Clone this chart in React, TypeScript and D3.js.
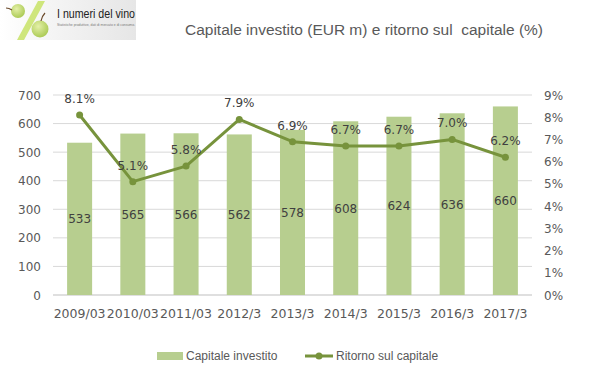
import React from "react";
import * as d3 from "d3";

const categories = ["2009/03", "2010/03", "2011/03", "2012/3", "2013/3", "2014/3", "2015/3", "2016/3", "2017/3"];
const capitale = [533, 565, 566, 562, 578, 608, 624, 636, 660];
const ritorno = [8.1, 5.1, 5.8, 7.9, 6.9, 6.7, 6.7, 7.0, 6.2];
const leftTicks = [0, 100, 200, 300, 400, 500, 600, 700];
const rightTicks = [0, 1, 2, 3, 4, 5, 6, 7, 8, 9];

const W = 599, H = 378;
const m = { left: 53, right: 532, top: 95, bottom: 295 };
const BAR = "#B7CE8F";
const LINE = "#77933C";
const TXT = "#595959";
const FONT = "'DejaVu Sans', Verdana, sans-serif";

export default function App() {
  const x = d3.scaleBand<string>().domain(categories).range([m.left, m.right]).paddingInner(0.53).paddingOuter(0.265);
  const yL = d3.scaleLinear().domain([0, 700]).range([m.bottom, m.top]);
  const yR = d3.scaleLinear().domain([0, 9]).range([m.bottom, m.top]);
  const cx = (c: string) => (x(c) as number) + x.bandwidth() / 2;
  const line = d3.line<number>().x((_, i) => cx(categories[i])).y((d) => yR(d));

  return (
    <svg width={W} height={H} style={{ position: "absolute", left: 0, top: 0, background: "#fff" }}>
      <defs>
        <linearGradient id="lg" x1="0" x2="1" y1="0" y2="0">
          <stop offset="0" stopColor="#ffffff" />
          <stop offset="0.4" stopColor="#f4f4f4" />
          <stop offset="1" stopColor="#e6e6e6" />
        </linearGradient>
        <radialGradient id="gr" cx="0.4" cy="0.35" r="0.7">
          <stop offset="0" stopColor="#e4f0a8" />
          <stop offset="1" stopColor="#a8c850" />
        </radialGradient>
      </defs>
      {/* logo */}
      <rect x={0} y={0} width={136} height={40} fill="url(#lg)" />
      <polygon points="17,40 24,40 45,1 38,1" fill="#cfe67c" />
      <circle cx={18} cy={11} r={7} fill="url(#gr)" />
      <circle cx={40} cy={29} r={8.5} fill="url(#gr)" />
      <path d="M6,8 Q9,8 12,10" stroke="#6b4a2b" strokeWidth={1.2} fill="none" />
      <path d="M45,13 Q42,16 41,21" stroke="#6b4a2b" strokeWidth={1.2} fill="none" />
      <text x={57} y={18} fontFamily="'Liberation Sans', sans-serif" fontSize={12.5} fill="#222" textLength={78} lengthAdjust="spacingAndGlyphs">I numeri del vino</text>
      <text x={57} y={26} fontFamily="'Liberation Sans', sans-serif" fontSize={3.2} fill="#777" textLength={78} lengthAdjust="spacingAndGlyphs">Statistiche produttive, dati di mercato e di consumo.</text>

      {/* title */}
      <text x={364} y={35} textAnchor="middle" fontFamily="'Liberation Sans', sans-serif" fontSize={15.5} fill={TXT} style={{ whiteSpace: "pre" }} textLength={358} lengthAdjust="spacingAndGlyphs">
        Capitale investito (EUR m) e ritorno sul  capitale (%)
      </text>

      {/* grid */}
      {leftTicks.map((t) => (
        <line key={t} x1={m.left} x2={m.right} y1={yL(t)} y2={yL(t)} stroke={t === 0 ? "#bfbfbf" : "#d9d9d9"} strokeWidth={1} />
      ))}
      {leftTicks.map((t) => (
        <text key={"l" + t} x={41} y={yL(t) + 4.5} textAnchor="end" fontFamily={FONT} fontSize={12} fill={TXT}>{t}</text>
      ))}
      {rightTicks.map((t) => (
        <text key={"r" + t} x={544} y={yR(t) + 4.5} textAnchor="start" fontFamily={FONT} fontSize={12} fill={TXT}>{t}%</text>
      ))}

      {/* bars */}
      {capitale.map((v, i) => (
        <rect key={i} x={x(categories[i])} y={yL(v)} width={x.bandwidth()} height={yL(0) - yL(v)} fill={BAR} />
      ))}
      {capitale.map((v, i) => (
        <text key={"bl" + i} x={cx(categories[i])} y={(yL(v) + yL(0)) / 2 + 4.5} textAnchor="middle" fontFamily={FONT} fontSize={12} fill="#404040">{v}</text>
      ))}

      {/* line */}
      <path d={line(ritorno) || ""} fill="none" stroke={LINE} strokeWidth={3} strokeLinejoin="round" />
      {ritorno.map((v, i) => (
        <circle key={"p" + i} cx={cx(categories[i])} cy={yR(v)} r={3.5} fill={LINE} />
      ))}
      {ritorno.map((v, i) => (
        <text key={"pl" + i} x={cx(categories[i])} y={yR(v) - 12} textAnchor="middle" fontFamily={FONT} fontSize={12} fill="#404040">{v.toFixed(1)}%</text>
      ))}

      {/* x labels */}
      {categories.map((c) => (
        <text key={"x" + c} x={cx(c)} y={318} textAnchor="middle" fontFamily={FONT} fontSize={12.5} fill={TXT}>{c}</text>
      ))}

      {/* legend */}
      <rect x={157} y={352} width={26} height={8} fill={BAR} />
      <text x={186} y={360} fontFamily="'Liberation Sans', Arial, sans-serif" fontSize={12} fill={TXT}>Capitale investito</text>
      <line x1={305} x2={333} y1={356} y2={356} stroke={LINE} strokeWidth={3} />
      <circle cx={319} cy={356} r={3.5} fill={LINE} />
      <text x={336} y={360} fontFamily="'Liberation Sans', Arial, sans-serif" fontSize={12} fill={TXT}>Ritorno sul capitale</text>
    </svg>
  );
}
